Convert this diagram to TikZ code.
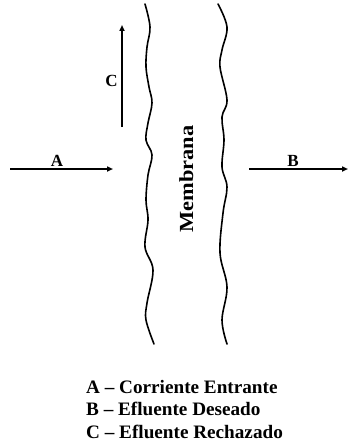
\documentclass[tikz,border=0pt]{standalone}
\usepackage{fontspec}
\setmainfont{Liberation Serif}
\usetikzlibrary{arrows.meta}
\tikzset{
  memline/.style={line width=1.6pt, line cap=round},
  flow/.style={line width=1.5pt, -{Triangle[length=6pt,width=5pt]}},
  lbl/.style={font=\fontsize{17}{19}\selectfont\bfseries, inner sep=0pt},
  legend/.style={font=\fontsize{19}{22.5}\selectfont\bfseries, inner sep=0pt, anchor=base west}
}
\begin{document}
\begin{tikzpicture}[x=1pt,y=-1pt]
\useasboundingbox (0,0) rectangle (348,444);
% membranes
\draw[memline] plot[smooth, tension=0.6] coordinates {(145,4) (150,27) (147,47) (146,67) (149,87) (152,103) (148,123) (146,140) (152,155) (148,175) (146,200) (148,220) (145,247) (153,270) (147,303) (146,320) (154,344)};
\draw[memline] plot[smooth, tension=0.6] coordinates {(218,4) (227,27) (222,50) (220,67) (227,100) (222,117) (224,140) (222,167) (227,187) (223,213) (220,253) (227,287) (222,320) (227,344)};
% arrows
\coordinate (a0) at (10,169);
\coordinate (a1) at (113,169);
\coordinate (b0) at (249,169);
\coordinate (b1) at (348,169);
\coordinate (c0) at (122,127);
\coordinate (c1) at (122,25);
\draw[flow] (a0) -- (a1);
\draw[flow] (b0) -- (b1);
\draw[flow] (c0) -- (c1);
\node[lbl, anchor=base] (la) at (57,166) {A};
\node[lbl, anchor=base] (lb) at (293,166) {B};
\node[lbl, anchor=base] (lc) at (111.5,86) {C};
\node[inner sep=0pt, rotate=90, anchor=base] (mem) at (193,179) {\scalebox{1.12}[1]{\fontsize{20}{24}\selectfont\bfseries Membrana}};
\node[legend] (leg1) at (86,393) {\scalebox{1.01}[1]{A -- Corriente Entrante}};
\node[legend] (leg2) at (86,415.5) {\scalebox{1.01}[1]{B -- Efluente Deseado}};
\node[legend] (leg3) at (86,438) {\scalebox{1.01}[1]{C -- Efluente Rechazado}};
\end{tikzpicture}
\end{document}
